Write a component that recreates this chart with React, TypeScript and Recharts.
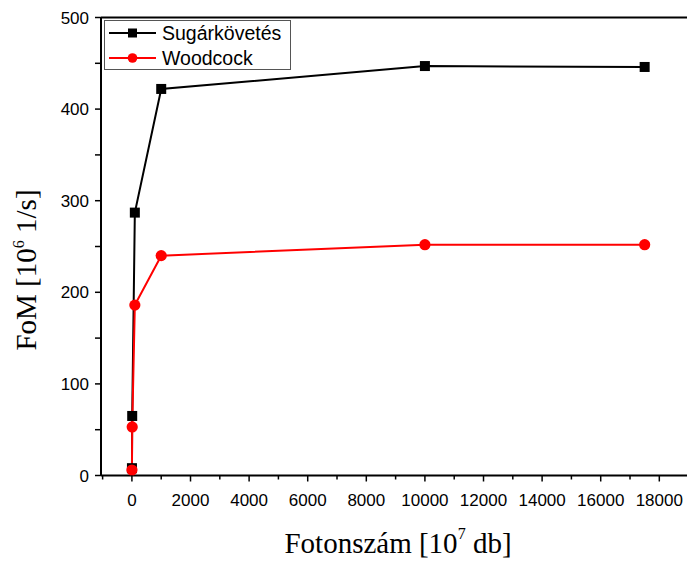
import React from 'react';
import { LineChart, Line, XAxis, YAxis, ReferenceLine } from 'recharts';

// Photon count (10^7 db) and figure of merit (10^6 1/s) for both methods
const photons = [1, 10, 100, 1000, 10000, 17500];
const sugarkovetes = [8, 65, 287, 422, 447, 446];
const woodcock = [6, 53, 186, 240, 252, 252];
const seriesNames = ['Sugárkövetés', 'Woodcock'];
const seriesColors = ['#000000', '#ff0000'];

const xTicks = [-1000, 0, 1000, 2000, 3000, 4000, 5000, 6000, 7000, 8000, 9000, 10000, 11000, 12000, 13000, 14000, 15000, 16000, 17000, 18000];
const yTicks = [0, 50, 100, 150, 200, 250, 300, 350, 400, 450, 500];

const table = photons.map((x, i) => ({ x, s: sugarkovetes[i], w: woodcock[i] }));

const SANS = '"Liberation Sans", Arial, sans-serif';
const SERIF = '"Liberation Serif", "Times New Roman", serif';

const XTick = (props: any) => {
  const { x, y, payload } = props;
  const v = payload.value as number;
  const major = v % 2000 === 0;
  return (
    <g>
      <line x1={x} x2={x} y1={y} y2={y + (major ? 6 : 4)} stroke="#000" strokeWidth={1.5} />
      {major && (
        <text x={x} y={y + 30} textAnchor="middle" fontSize={17} fontFamily={SANS} fill="#000">
          {v}
        </text>
      )}
    </g>
  );
};

const YTick = (props: any) => {
  const { x, y, payload } = props;
  const v = payload.value as number;
  const major = v % 100 === 0;
  return (
    <g>
      <line x1={x - 6} x2={x} y1={y} y2={y} stroke="#000" strokeWidth={1.5} />
      {major && (
        <text x={x - 12} y={y + 6} textAnchor="end" fontSize={17} fontFamily={SANS} fill="#000">
          {v}
        </text>
      )}
    </g>
  );
};

const SquareDot = (props: any) => {
  const { cx, cy, index } = props;
  if (cx == null || cy == null) return <g key={`sq-${index}`} />;
  return <rect key={`sq-${index}`} x={cx - 5} y={cy - 5} width={10} height={10} fill="#000" />;
};

const CircleDot = (props: any) => {
  const { cx, cy, index } = props;
  if (cx == null || cy == null) return <g key={`ci-${index}`} />;
  return <circle key={`ci-${index}`} cx={cx} cy={cy} r={5.6} fill="#ff0000" />;
};

const LegendIcon = ({ idx }: { idx: number }) => (
  <svg width={47} height={24} style={{ display: 'block' }}>
    <line x1={0} x2={47} y1={12} y2={12} stroke={seriesColors[idx]} strokeWidth={2} />
    {idx === 0 ? (
      <rect x={19} y={7.5} width={9} height={9} fill={seriesColors[idx]} />
    ) : (
      <circle cx={23.5} cy={12} r={4.8} fill={seriesColors[idx]} />
    )}
  </svg>
);

export default function App() {
  const rowCenters = [33.3, 57.7];
  return (
    <div style={{ position: 'fixed', left: 0, top: 0, width: 687, height: 561, overflow: 'hidden', background: '#fff' }}>
      <LineChart
        width={687}
        height={561}
        data={table}
        margin={{ top: 17.5, right: 0, bottom: 25.5, left: 0 }}
      >
        <XAxis
          type="number"
          dataKey="x"
          domain={[-1055, 18945]}
          ticks={xTicks}
          interval={0}
          height={60}
          tickSize={0}
          tickMargin={0}
          tickLine={false}
          axisLine={{ stroke: '#000', strokeWidth: 2 }}
          tick={<XTick />}
        />
        <YAxis
          type="number"
          domain={[0, 500]}
          ticks={yTicks}
          interval={0}
          width={101}
          tickSize={0}
          tickMargin={0}
          tickLine={false}
          axisLine={{ stroke: '#000', strokeWidth: 2 }}
          tick={<YTick />}
        />
        <ReferenceLine y={500} stroke="#000" strokeWidth={2} />
        <Line
          dataKey="s"
          name={seriesNames[0]}
          stroke={seriesColors[0]}
          strokeWidth={2}
          dot={SquareDot}
          activeDot={false}
          isAnimationActive={false}
        />
        <Line
          dataKey="w"
          name={seriesNames[1]}
          stroke={seriesColors[1]}
          strokeWidth={2}
          dot={CircleDot}
          activeDot={false}
          isAnimationActive={false}
        />
      </LineChart>

      {/* legend */}
      <div
        style={{
          position: 'absolute',
          left: 104,
          top: 20,
          width: 187,
          height: 50,
          border: '1px solid #555',
          boxSizing: 'border-box',
          background: '#fff',
        }}
      />
      {seriesNames.map((name, i) => (
        <div
          key={name}
          style={{
            position: 'absolute',
            left: 109,
            top: rowCenters[i] - 12,
            height: 24,
            display: 'flex',
            alignItems: 'center',
            whiteSpace: 'nowrap',
          }}
        >
          <LegendIcon idx={i} />
          <span style={{ marginLeft: 6, fontFamily: SANS, fontSize: 19.5, lineHeight: '24px', color: '#000' }}>{name}</span>
        </div>
      ))}

      {/* axis titles */}
      <div
        style={{
          position: 'absolute',
          left: 398,
          top: 527,
          transform: 'translateX(-50%)',
          whiteSpace: 'nowrap',
          fontFamily: SERIF,
          fontSize: 29,
          lineHeight: '32px',
          color: '#000',
        }}
      >
        Fotonszám [10<span style={{ fontSize: 16, position: 'relative', top: -14 }}>7</span> db]
      </div>
      <div
        style={{
          position: 'absolute',
          left: 28,
          top: 270,
          transform: 'translate(-50%, -50%) rotate(-90deg)',
          whiteSpace: 'nowrap',
          fontFamily: SERIF,
          fontSize: 29,
          lineHeight: '32px',
          color: '#000',
        }}
      >
        FoM [10<span style={{ fontSize: 16, position: 'relative', top: -12 }}>6</span> 1/s]
      </div>
    </div>
  );
}
